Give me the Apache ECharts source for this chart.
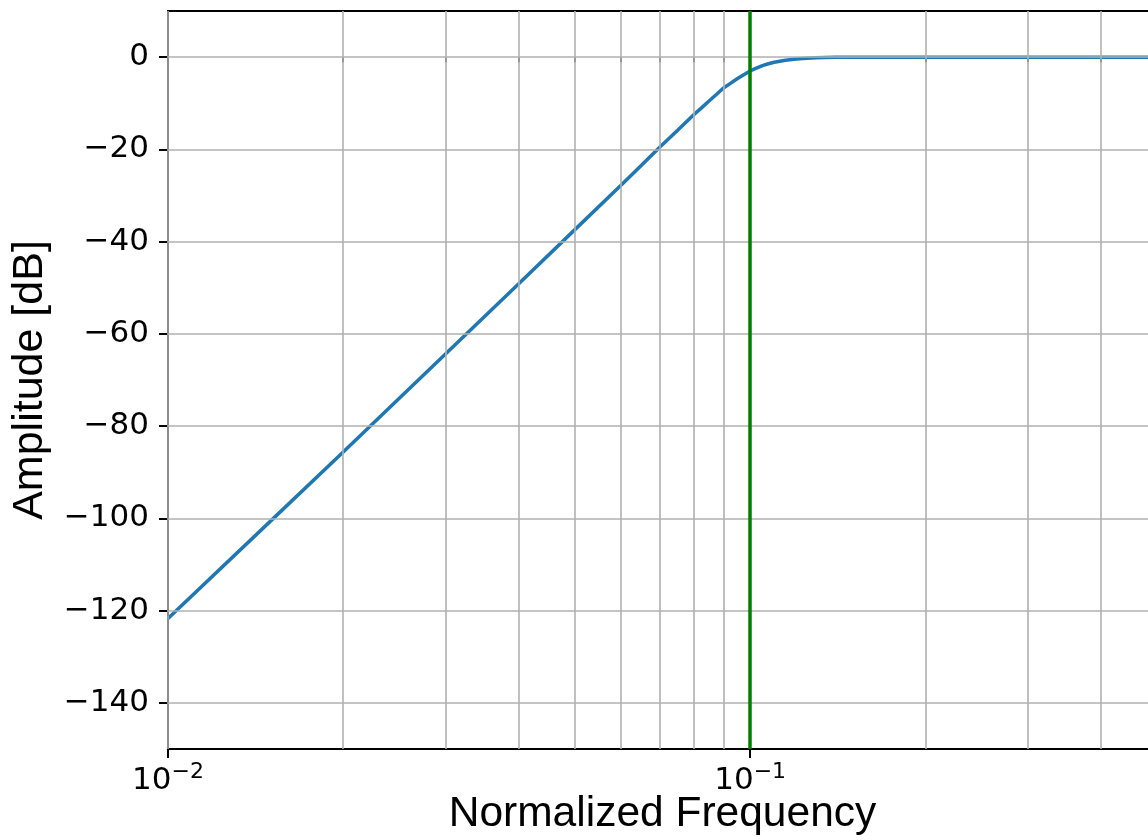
<!DOCTYPE html>
<html>
<head>
<meta charset="utf-8">
<script src="https://cdn.jsdelivr.net/npm/echarts@6/dist/echarts.min.js"></script>
<style>
html,body{margin:0;padding:0;background:#fff;}
#chart{width:1148px;height:840px;}
</style>
</head>
<body>
<div id="chart"></div>
<script>
// Data (normalized frequency, amplitude in dB)
var freqs = [0.01, 0.015, 0.02, 0.03, 0.04, 0.05, 0.06, 0.065, 0.07, 0.075, 0.08, 0.0825, 0.085, 0.0875, 0.09, 0.0925, 0.095, 0.0975, 0.1, 0.1025, 0.105, 0.1075, 0.11, 0.115, 0.12, 0.125, 0.13, 0.14, 0.15, 0.17, 0.2, 0.3, 0.4, 0.5];
var amps  = [-121.7, -100.6, -85.6, -64.3, -49.2, -37.4, -27.8, -23.5, -19.5, -15.9, -12.5, -11.0, -9.5, -8.1, -6.7, -5.7, -4.7, -3.8, -3.0, -2.4, -1.85, -1.44, -1.11, -0.66, -0.39, -0.23, -0.14, -0.05, -0.02, -0.003, 0, 0, 0, 0];
var cutoff = 0.1;
var xMajorTicks = [0.01, 0.1];
var xMinorTicks = [0.02, 0.03, 0.04, 0.05, 0.06, 0.07, 0.08, 0.09, 0.2, 0.3, 0.4, 0.5];
var yTicks = [-140, -120, -100, -80, -60, -40, -20, 0];
var xRange = [0.01, 0.5];
var yRange = [-150, 10];

var curve = freqs.map(function (f, i) { return [f, amps[i]]; });
var gridX = xMajorTicks.concat(xMinorTicks).map(function (v) { return { xAxis: v }; });
var gridY = yTicks.map(function (v) { return { yAxis: v }; });

var chart = echarts.init(document.getElementById('chart'), null, { renderer: 'canvas' });
var tickFont = 'DejaVu Sans';
var nameFont = 'Liberation Sans';

chart.setOption({
  animation: false,
  backgroundColor: '#ffffff',
  grid: {
    left: 168, top: 11, width: 989, height: 738,
    containLabel: false, outerBoundsMode: 'none',
    show: true, borderColor: '#000', borderWidth: 2, backgroundColor: 'transparent'
  },
  xAxis: [{
    type: 'log', logBase: 10, min: xRange[0], max: xRange[1],
    name: 'Normalized Frequency', nameLocation: 'middle', nameGap: 44, nameMoveOverlap: false,
    nameTextStyle: { fontFamily: nameFont, fontSize: 42.5, color: '#000' },
    axisLine: { show: true, onZero: false, lineStyle: { color: '#000', width: 2 } },
    axisTick: { show: true, customValues: xMajorTicks, length: 9, lineStyle: { color: '#000', width: 2 } },
    axisLabel: {
      customValues: xMajorTicks, margin: 12, color: '#000',
      formatter: function (v) { return '{b|10}{s|−' + Math.round(-Math.log10(v)) + '}'; },
      rich: {
        b: { fontFamily: tickFont, fontSize: 31, lineHeight: 32, padding: [7, 0, 0, 0], color: '#000' },
        s: { fontFamily: tickFont, fontSize: 22, lineHeight: 22, verticalAlign: 'top', color: '#000' }
      }
    },
    splitLine: { show: false }, minorTick: { show: false }, minorSplitLine: { show: false }
  }, {
    type: 'log', logBase: 10, min: xRange[0], max: xRange[1], position: 'bottom', gridIndex: 0,
    axisLine: { show: false },
    axisTick: { show: true, customValues: xMinorTicks, length: 5, lineStyle: { color: '#000', width: 1.5 } },
    axisLabel: { show: false },
    splitLine: { show: false }
  }],
  yAxis: {
    type: 'value', min: yRange[0], max: yRange[1],
    name: 'Amplitude [dB]', nameLocation: 'middle', nameGap: 116, nameRotate: 90, nameMoveOverlap: false,
    nameTextStyle: { fontFamily: nameFont, fontSize: 43, color: '#000' },
    axisLine: { show: true, onZero: false, lineStyle: { color: '#000', width: 2 } },
    axisTick: { show: true, customValues: yTicks, length: 9, lineStyle: { color: '#000', width: 2 } },
    axisLabel: {
      customValues: yTicks, margin: 19, color: '#000', fontFamily: tickFont, fontSize: 31,
      lineHeight: 31, padding: [5, 0, 0, 0],
      formatter: function (v) { return v < 0 ? '−' + Math.abs(v) : String(v); }
    },
    splitLine: { show: false }
  },
  series: [{
    name: 'grid', type: 'line', data: [], z: 1, silent: true,
    markLine: {
      silent: true, symbol: ['none', 'none'], animation: false,
      label: { show: false },
      lineStyle: { color: '#b0b0b0', width: 1.6, type: 'solid' },
      emphasis: { disabled: true },
      data: gridX.concat(gridY)
    }
  }, {
    name: 'response', type: 'line', data: curve, z: 3,
    showSymbol: false, symbol: 'none', smooth: false, clip: true,
    lineStyle: { color: '#1f77b4', width: 3.5 },
    markLine: {
      silent: true, symbol: ['none', 'none'], animation: false,
      label: { show: false },
      lineStyle: { color: '#008000', width: 3.5, type: 'solid' },
      emphasis: { disabled: true },
      data: [{ xAxis: cutoff }]
    }
  }]
});
</script>
</body>
</html>
